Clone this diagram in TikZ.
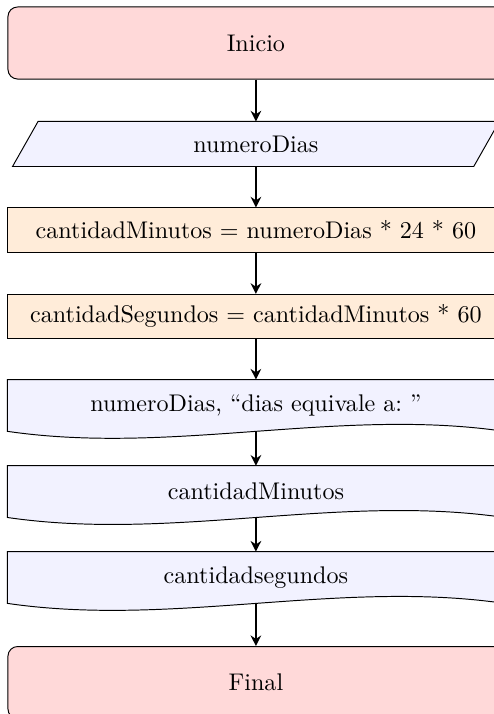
\documentclass[tikz,border=0pt]{standalone}
\usepackage{tikz}
\usetikzlibrary{arrows.meta,positioning,backgrounds}

\begin{document}
\begin{tikzpicture}[x=1pt, y=1pt, line width=0.4pt,
    terminal/.style={draw, rounded corners=4pt, fill=red!15,
      minimum width=205.8pt, minimum height=29.9pt},
    entrada/.style={minimum width=191pt, minimum height=18.3pt},
    proceso/.style={draw, fill=orange!15, minimum width=205.8pt,
      minimum height=18.3pt},
    salida/.style={minimum width=205.8pt, minimum height=21.1pt},
    flecha/.style={thick, -{Stealth[length=4.4pt, width=4.4pt]}}]
  \useasboundingbox (0,0) rectangle (205,-296.3);
  % nodes, top to bottom
  \node[terminal] (inicio) at (106.2,-17.85) {Inicio};
  \node[entrada] (leer) at (106.2,-59.75) {numeroDias};
  \node[proceso] (minutos) at (106.2,-95.45) {cantidadMinutos = numeroDias * 24 * 60};
  \node[proceso] (segundos) at (106.2,-131.3) {cantidadSegundos = cantidadMinutos * 60};
  \node[salida] (mostrar) at (106.2,-168.25) {numeroDias, ``dias equivale a:\ ''};
  \node[salida] (mostrarmin) at (106.2,-204.0) {cantidadMinutos};
  \node[salida] (mostrarseg) at (106.2,-239.65) {cantidadsegundos};
  \node[terminal] (final) at (106.2,-283.25) {Final};
  \begin{scope}[on background layer]
    % input parallelogram
    \draw[fill=blue!5] ([xshift=-5.3pt]leer.south west) -- ([xshift=5.3pt]leer.north west)
      -- ([xshift=5.3pt]leer.north east) -- ([xshift=-5.3pt]leer.south east) -- cycle;
    % document shapes, wavy bottom edge
    \foreach \d in {mostrar,mostrarmin,mostrarseg}
      \draw[fill=blue!5] (\d.north west) -- (\d.north east) -- (\d.south east)
        .. controls +(-68.6,10) and +(68.6,-10) .. (\d.south west) -- cycle;
  \end{scope}
  % connectors
  \draw[flecha] (inicio) -- (leer);
  \draw[flecha] (leer) -- (minutos);
  \draw[flecha] (minutos) -- (segundos);
  \draw[flecha] (segundos) -- (mostrar);
  \draw[flecha] (mostrar) -- (mostrarmin);
  \draw[flecha] (mostrarmin) -- (mostrarseg);
  \draw[flecha] (mostrarseg) -- (final);
\end{tikzpicture}
\end{document}
